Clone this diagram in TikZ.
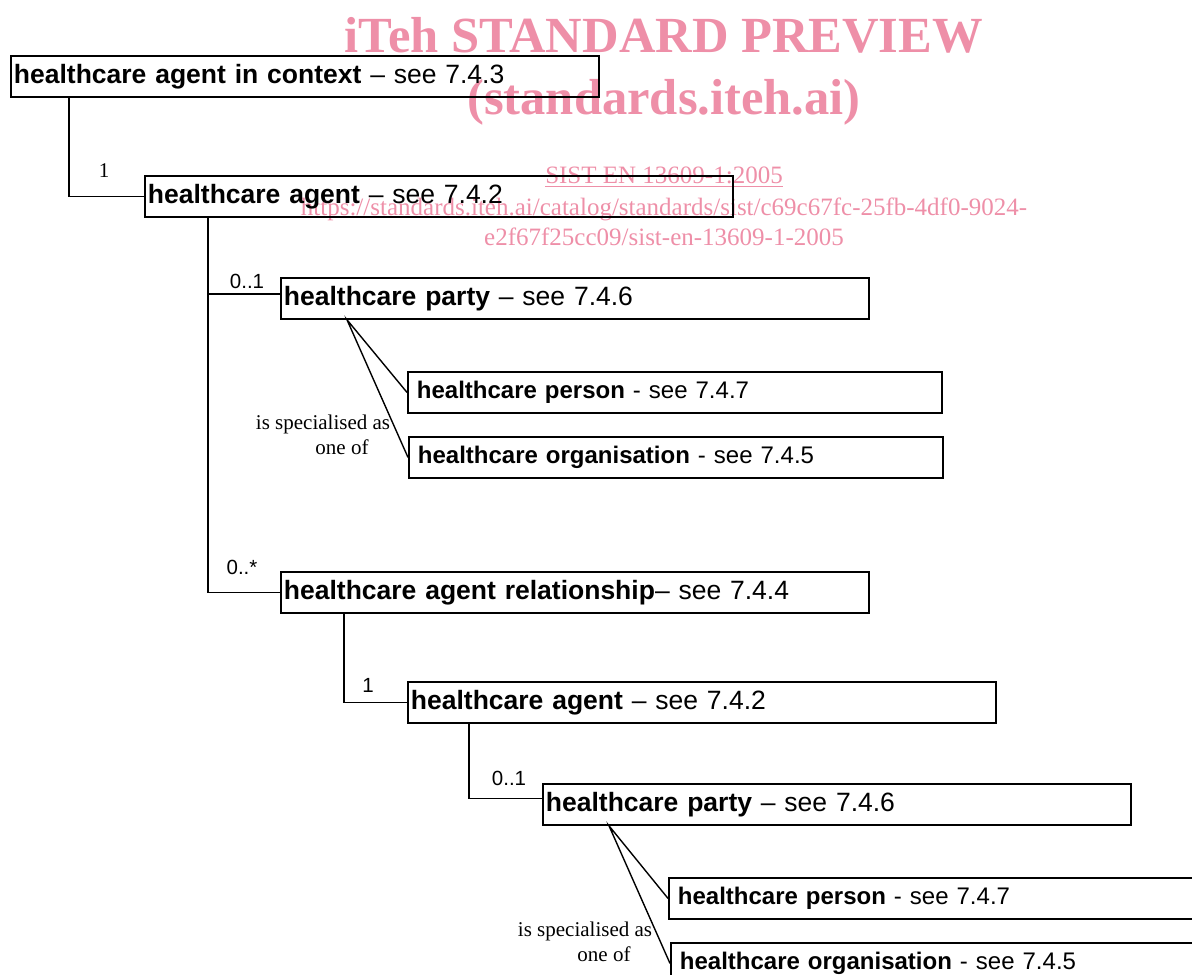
\documentclass[tikz,border=0pt]{standalone}
\usepackage{fontspec}
\setmainfont{Liberation Serif}
\setsansfont{Liberation Sans}
\usetikzlibrary{shapes,arrows,positioning}
\definecolor{wmpink}{RGB}{238,143,168}
\tikzset{
  box/.style={draw, line width=0.9pt, anchor=north west,
    minimum height=20.5pt, inner xsep=1.5pt, inner ysep=0pt,
    text width=#1, align=left,
    font=\sffamily\fontsize{13.25}{15}\selectfont},
  box/.default=291pt,
  subbox/.style={box=258pt, inner xsep=4.5pt,
    font=\sffamily\fontsize{12}{14}\selectfont},
  mult/.style={font=\sffamily\fontsize{10.25}{12}\selectfont, inner sep=0pt},
  note/.style={font=\fontsize{10.5}{12.5}\selectfont, align=center, inner sep=0pt},
  link/.style={line width=0.7pt},
  wmark/.style={text=wmpink, inner sep=0pt, align=center},
}

\begin{document}
\begin{tikzpicture}[x=0.5pt,y=-0.5pt]
\useasboundingbox (0,0) rectangle (1192,974);
\node[wmark, font=\bfseries\fontsize{25.3}{28}\selectfont] (wm1) at (664,35)
  {iTeh STANDARD PREVIEW};
\node[wmark, font=\bfseries\fontsize{25.3}{28}\selectfont] (wm2) at (664,102)
  {(standards.iteh.ai)};
\node[wmark, font=\fontsize{12.5}{15}\selectfont] (wm3) at (664,177)
  {\underline{SIST EN 13609-1:2005}};
\node[wmark, font=\fontsize{12.5}{15}\selectfont] (wm4) at (664,222)
  {https://standards.iteh.ai/catalog/standards/sist/c69c67fc-25fb-4df0-9024-\\
   e2f67f25cc09/sist-en-13609-1-2005};

\node[box] (ctx) at (10,55)
  {\textbf{healthcare agent in context} \textendash{} see 7.4.3};
\node[box] (agent) at (144,175)
  {\textbf{healthcare agent} \textendash{} see 7.4.2};
\node[box] (party) at (280,277)
  {\textbf{healthcare party} \textendash{} see 7.4.6};
\node[subbox] (person) at (407,371)
  {\textbf{healthcare person} - see 7.4.7};
\node[subbox] (org) at (408,436)
  {\textbf{healthcare organisation} - see 7.4.5};
\node[box] (rel) at (280,571)
  {\textbf{healthcare agent relationship}\textendash{} see 7.4.4};
\node[box] (agentb) at (407,681)
  {\textbf{healthcare agent} \textendash{} see 7.4.2};
\node[box] (partyb) at (542,783)
  {\textbf{healthcare party} \textendash{} see 7.4.6};
\node[subbox] (personb) at (668,877)
  {\textbf{healthcare person} - see 7.4.7};
\node[subbox] (orgb) at (670,942)
  {\textbf{healthcare organisation} - see 7.4.5};

\draw[link]
  ([xshift=29.5pt]ctx.south west) |- (agent.west);
\draw[link]
  ([xshift=32pt]agent.south west) |- ([yshift=2.25pt]party.west);
\draw[link]
  ([xshift=32pt]agent.south west) |- (rel.west);
\draw[link]
  ([xshift=32pt]rel.south west) |- (agentb.west);
\draw[link]
  ([xshift=31pt]agentb.south west) |- ([yshift=3pt]partyb.west);
\draw[link]
  (person.west) -- ([xshift=33.5pt]party.south west) -- (org.west);
\draw[link]
  (personb.west) -- ([xshift=33.5pt]partyb.south west) -- (orgb.west);

\node[note] (n1) at (104,171) {1};
\node[mult] (n2) at (247,281) {0..1};
\node[mult] (n3) at (242,567) {0..*};
\node[mult] (n4) at (368,685) {1};
\node[mult] (n5) at (509,778) {0..1};
\node[note] (spec) at (323,435) {is specialised as\\\hspace*{19pt}one of};
\node[note] (specb) at (585,942) {is specialised as\\\hspace*{19pt}one of};
\end{tikzpicture}
\end{document}
